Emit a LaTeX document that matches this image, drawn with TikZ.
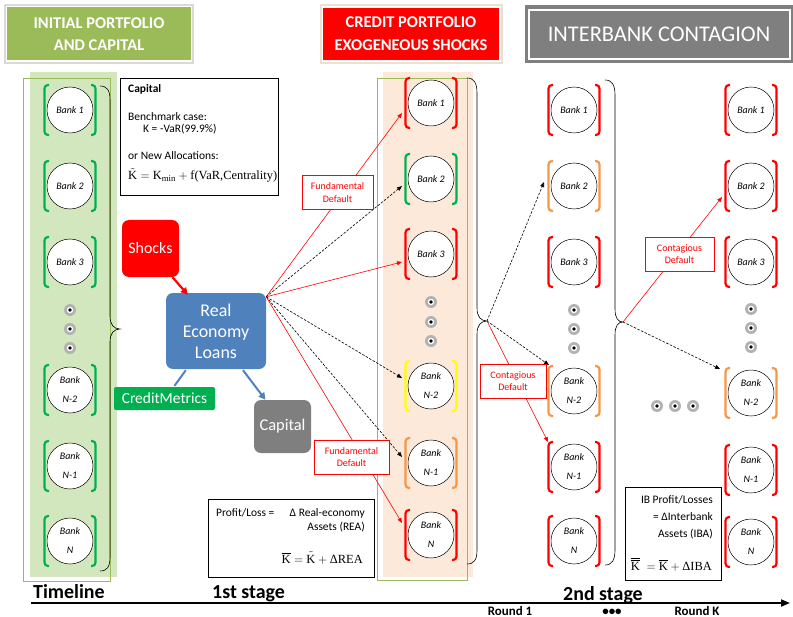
\documentclass[tikz,border=0pt]{standalone}
\usepackage{amsmath}
\usepackage{fontspec}
\setmainfont{Carlito}
\newfontfamily\eqfont{Liberation Serif}
\usepackage{tikz}
\usetikzlibrary{arrows.meta}
\usetikzlibrary{calc}
\usetikzlibrary{positioning}
\usepackage{xcolor}

\definecolor{hdgreen}{HTML}{9BBB59}
\definecolor{colgreen}{HTML}{D3E7BE}
\definecolor{colpeach}{HTML}{FDE9D9}
\definecolor{brgreen}{HTML}{00B050}
\definecolor{brorange}{HTML}{F79646}
\definecolor{bryellow}{HTML}{FFFF00}
\definecolor{loanblue}{HTML}{4F81BD}
\definecolor{capgray}{HTML}{7F7F7F}

\newcommand{\bankbrackets}[2]{%
\draw[#2, line width=2.2pt, rounded corners=3.5bp] ($(#1.center)+(-21,-25)$) -- ($(#1.center)+(-25.5,-25)$) -- ($(#1.center)+(-25.5,25)$) -- ($(#1.center)+(-21,25)$);
\draw[#2, line width=2.2pt, rounded corners=3.5bp] ($(#1.center)+(21,-25)$) -- ($(#1.center)+(25.5,-25)$) -- ($(#1.center)+(25.5,25)$) -- ($(#1.center)+(21,25)$);}

\newcommand{\bankdot}[2]{%
\fill[gray!60] (#1,#2) circle (6);
\fill[white] (#1,#2) circle (3.2);
\fill[black] (#1,#2) circle (1.9);}

\begin{document}
\begin{tikzpicture}[x=1bp, y=-1bp,
  bank/.style={circle, draw, fill=white, line width=0.5pt, minimum size=46bp, inner sep=0pt, align=center, font=\fontsize{10}{19}\selectfont\itshape},
  hdbox/.style={inner sep=0pt, align=center, text=white},
  block/.style={rounded corners=7bp, inner sep=0pt, align=center, text=white},
  dflt/.style={draw=red, fill=white, text=red, line width=0.6pt, align=center, inner sep=0pt, font=\fontsize{10}{12.5}\selectfont},
  redarrow/.style={red, line width=0.6pt, -{Triangle[length=5bp,width=4bp]}},
  dasharrow/.style={black, dash pattern=on 2.5bp off 1.5bp, line width=0.6pt, -{Triangle[length=5bp,width=4bp]}},
  txt/.style={inner sep=0pt, anchor=base west, font=\fontsize{11.5}{13}\selectfont},
  rtxt/.style={inner sep=0pt, anchor=base east, font=\fontsize{11.5}{13}\selectfont},
  stage/.style={inner sep=0pt, anchor=base west, font=\fontsize{20}{22}\selectfont\bfseries}
]
\useasboundingbox (0,0) rectangle (793,617);

% columns
\fill[colgreen] (30,72) rectangle (117,577);
\draw[hdgreen, line width=0.6pt] (23,78) rectangle (110,581);
\fill[colpeach] (383,72) rectangle (473,577);
\draw[hdgreen, line width=0.6pt] (377,78) rectangle (467,580);

% headers
\draw[gray!30, line width=1.2pt] (5,5) rectangle (193,63);
\node[hdbox, fill=hdgreen, minimum width=184bp, minimum height=53bp, font=\fontsize{16.5}{22}\selectfont\bfseries] (hdinit) at (99,34) {INITIAL PORTFOLIO\\AND CAPITAL};
\draw[brown!25, line width=1.2pt] (321,5) rectangle (502,63);
\node[hdbox, fill=red, minimum width=176bp, minimum height=52bp, font=\fontsize{16.5}{23}\selectfont\bfseries] (hdshock) at (411,34) {CREDIT PORTFOLIO\\EXOGENEOUS SHOCKS};
\node[hdbox, fill=capgray, minimum width=268bp, minimum height=58bp, font=\fontsize{22.5}{24}\selectfont] (hdinter) at (659,34) {INTERBANK CONTAGION};
\draw[white, line width=1.2pt] (529,10) rectangle (790,59);

% capital box
\node[draw, line width=0.6pt, minimum width=158bp, minimum height=117bp, inner sep=0pt] (capbox) at (199,136.5) {};
\node[txt, font=\fontsize{11.5}{13}\selectfont\bfseries] (captitle) at (128,93) {Capital};
\node[txt] (capbench) at (128,121) {Benchmark case:};
\node[txt] (capvar) at (143,133) {K = -VaR(99.9\%)};
\node[txt] (capnew) at (128,160) {or New Allocations:};
\node[txt, font=\eqfont\fontsize{12.5}{14}\selectfont] (capform) at (128,180) {$\tilde{\text{K}} = \text{K}_{\text{min}} + \text{f(VaR,Centrality)}$};

% 1st stage blocks
\node[block, fill=red, minimum width=57bp, minimum height=57bp, font=\fontsize{16}{18}\selectfont] (shocks) at (150.5,248.5) {Shocks};
\node[block, fill=loanblue, minimum width=100bp, minimum height=76bp, font=\fontsize{18}{21}\selectfont] (loans) at (216,331) {Real\\Economy\\Loans};
\node[block, rounded corners=2bp, fill=brgreen, minimum width=101bp, minimum height=23bp, font=\fontsize{15.5}{17}\selectfont] (credit) at (164.5,398.5) {CreditMetrics};
\node[block, fill=capgray, minimum width=57bp, minimum height=53bp, font=\fontsize{16.5}{18}\selectfont] (capital) at (282.5,426.5) {Capital};

\draw[red, line width=2.2pt, -{Triangle[length=7bp,width=7bp]}] ($(shocks.south)+(22,0)$) -- ($(loans.north west)+(22,2)$);
\draw[loanblue, line width=2pt] ($(loans.south west)+(20,1)$) -- ($(credit.north)+(10,-1)$);
\draw[loanblue, line width=2pt, -{Triangle[length=7bp,width=7bp]}] ($(loans.south)+(27,1)$) -- ($(capital.north)+(-17,0)$);

% banks, initial
\node[bank] (c1b1) at (70,110) {Bank 1};
\node[bank] (c1b2) at (70,186) {Bank 2};
\node[bank] (c1b3) at (70,262) {Bank 3};
\node[bank] (c1bN2) at (70,390) {Bank\\N-2};
\node[bank] (c1bN1) at (70,466) {Bank\\N-1};
\node[bank] (c1bN) at (70,541) {Bank\\N};
\bankdot{70}{310} \bankdot{70}{329} \bankdot{70}{348}

% banks, shocks
\node[bank] (c2b1) at (431,103) {Bank 1};
\node[bank] (c2b2) at (431,179) {Bank 2};
\node[bank] (c2b3) at (431,254) {Bank 3};
\node[bank] (c2bN2) at (431,386) {Bank\\N-2};
\node[bank] (c2bN1) at (431,463) {Bank\\N-1};
\node[bank] (c2bN) at (431,535) {Bank\\N};
\bankdot{431}{302} \bankdot{431}{322} \bankdot{431}{341}

% banks, round 1
\node[bank] (c3b1) at (574,110) {Bank 1};
\node[bank] (c3b2) at (574,186) {Bank 2};
\node[bank] (c3b3) at (574,262) {Bank 3};
\node[bank] (c3bN2) at (574,391) {Bank\\N-2};
\node[bank] (c3bN1) at (574,467) {Bank\\N-1};
\node[bank] (c3bN) at (574,541) {Bank\\N};
\bankdot{574}{310} \bankdot{574}{329} \bankdot{574}{348}

% banks, round K
\node[bank] (c4b1) at (751,110) {Bank 1};
\node[bank] (c4b2) at (751,186) {Bank 2};
\node[bank] (c4b3) at (751,262) {Bank 3};
\node[bank] (c4bN2) at (751,393) {Bank\\N-2};
\node[bank] (c4bN1) at (751,470) {Bank\\N-1};
\node[bank] (c4bN) at (751,542) {Bank\\N};
\bankdot{751}{309} \bankdot{751}{328} \bankdot{751}{347}

\bankdot{657}{406} \bankdot{675}{406} \bankdot{693}{406}

% brackets
\bankbrackets{c1b1}{brgreen} \bankbrackets{c1b2}{brgreen} \bankbrackets{c1b3}{brgreen}
\bankbrackets{c1bN2}{brgreen} \bankbrackets{c1bN1}{brgreen} \bankbrackets{c1bN}{brgreen}
\bankbrackets{c2b1}{red} \bankbrackets{c2b2}{brgreen} \bankbrackets{c2b3}{red}
\bankbrackets{c2bN2}{bryellow} \bankbrackets{c2bN1}{brorange} \bankbrackets{c2bN}{red}
\bankbrackets{c3b1}{red} \bankbrackets{c3b2}{brorange} \bankbrackets{c3b3}{red}
\bankbrackets{c3bN2}{brorange} \bankbrackets{c3bN1}{red} \bankbrackets{c3bN}{red}
\bankbrackets{c4b1}{red} \bankbrackets{c4b2}{red} \bankbrackets{c4b3}{red}
\bankbrackets{c4bN2}{brorange} \bankbrackets{c4bN1}{red} \bankbrackets{c4bN}{red}

% braces
\draw[line width=0.6pt] (100,86) .. controls (107,86) and (110,90) .. (110,100) -- (110,316) .. controls (110,325) and (114,329) .. (120,329) .. controls (114,329) and (110,333) .. (110,342) -- (110,557) .. controls (110,567) and (107,571) .. (100,571);
\draw[line width=0.6pt] (467,78) .. controls (474,78) and (477,83) .. (477,93) -- (477,308) .. controls (477,317) and (481,321) .. (487,321) .. controls (481,321) and (477,325) .. (477,334) -- (477,550) .. controls (477,560) and (474,564) .. (467,564);
\draw[line width=0.6pt] (605,80) .. controls (612,80) and (615,85) .. (615,95) -- (615,309) .. controls (615,318) and (618,322) .. (623,322) .. controls (618,322) and (615,326) .. (615,335) -- (615,550) .. controls (615,560) and (612,565) .. (605,565);

\coordinate (fan) at ($(loans.north east)+(0,4)$);
\coordinate (tip2) at (487,321);
\coordinate (tip3) at (623,322);

% 1st stage shocks
\draw[redarrow] (fan) -- ($(c2b1.center)+(-29,10)$);
\draw[dasharrow] (fan) -- ($(c2b2.center)+(-29,7)$);
\draw[redarrow] (fan) -- ($(c2b3.center)+(-29,8)$);
\draw[dasharrow] (fan) -- ($(c2bN2.center)+(-29,-8)$);
\draw[dasharrow] (fan) -- ($(c2bN1.center)+(-29,-6)$);
\draw[redarrow] (fan) -- ($(c2bN.center)+(-29,-12)$);

% contagion
\draw[dasharrow] (tip2) -- ($(c3b2.center)+(-30,-4)$);
\draw[dasharrow] (tip2) -- ($(c3bN2.center)+(-25,-26)$);
\draw[redarrow] (tip2) -- ($(c3bN1.center)+(-26,-25)$);
\draw[redarrow] (tip3) -- ($(c4b2.center)+(-29,11)$);
\draw[dasharrow] (tip3) -- ($(c4bN2.center)+(-31,-24)$);

\node[dflt, minimum width=71bp, minimum height=34bp] (fd1) at (337.5,192.5) {Fundamental\\Default};
\node[dflt, minimum width=75bp, minimum height=34bp] (fd2) at (351.5,457) {Fundamental\\Default};
\node[dflt, minimum width=66bp, minimum height=34bp] (cd1) at (513,381) {Contagious\\Default};
\node[dflt, minimum width=69bp, minimum height=34bp] (cd2) at (679.5,254) {Contagious\\Default};

% profit boxes
\node[draw, line width=0.6pt, minimum width=166bp, minimum height=78bp, inner sep=0pt] (plbox) at (291,538) {};
\node[txt] (plleft) at (216,516) {Profit/Loss =};
\node[rtxt] (plrea) at (365,516) {Δ Real-economy};
\node[rtxt] (plassets) at (365,530) {Assets (REA)};
\node[rtxt, font=\eqfont\fontsize{12.5}{14}\selectfont] (plform) at (363,563) {$\overline{\text{K}} = \tilde{\text{K}} + \text{ΔREA}$};

\node[draw, line width=0.6pt, minimum width=96bp, minimum height=93bp, inner sep=0pt] (ibbox) at (673,533.5) {};
\node[rtxt] (ibtitle) at (713,503) {IB Profit/Losses};
\node[rtxt] (ibdelta) at (713,520) {= ΔInterbank};
\node[rtxt] (ibassets) at (713,537) {Assets (IBA)};
\node[rtxt, font=\eqfont\fontsize{12.5}{14}\selectfont] (ibform) at (712,570) {$\overline{\overline{\text{K}}}\; = \overline{\text{K}} + \text{ΔIBA}$};

% timeline
\coordinate (tlstart) at (31,603);
\coordinate (tlend) at (790,603);
\draw[line width=1.8pt, -{Triangle[length=9bp,width=7bp]}] (tlstart) -- (tlend);
\node[stage] (tl) at (33,598) {Timeline};
\node[stage] (st1) at (212,598) {1st stage};
\node[stage] (st2) at (563,600) {2nd stage};
\node[inner sep=0pt, anchor=base, font=\fontsize{13}{14}\selectfont\bfseries] (rd1) at (510,615) {Round 1};
\node[inner sep=0pt, anchor=base, font=\fontsize{13}{14}\selectfont\bfseries] (rddots) at (612,615) {•••};
\node[inner sep=0pt, anchor=base, font=\fontsize{13}{14}\selectfont\bfseries] (rdK) at (697,615) {Round K};

\end{tikzpicture}
\end{document}
